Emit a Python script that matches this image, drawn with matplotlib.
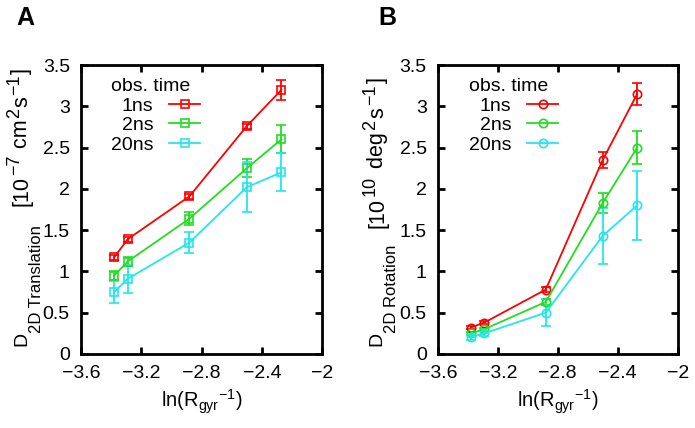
import matplotlib
matplotlib.use("Agg")
import matplotlib.pyplot as plt

plt.rcParams['font.family'] = ['Liberation Sans', 'DejaVu Sans']
plt.rcParams['mathtext.default'] = 'regular'

# ln(Rgyr^-1) positions
x = [-3.38, -3.29, -2.88, -2.50, -2.27]
labels = ['1ns', '2ns', '20ns']
colors = ['#ff0000', '#22dd22', '#22e6ee']

# panel A: translation
trans = [[1.17, 1.39, 1.91, 2.76, 3.20],
         [0.95, 1.12, 1.64, 2.25, 2.60],
         [0.75, 0.91, 1.35, 2.02, 2.20]]
trans_err = [[0.03, 0.03, 0.03, 0.03, 0.12],
             [0.05, 0.05, 0.08, 0.11, 0.17],
             [0.13, 0.17, 0.13, 0.30, 0.23]]

# panel B: rotation
rot = [[0.32, 0.38, 0.78, 2.35, 3.15],
       [0.25, 0.30, 0.63, 1.83, 2.50],
       [0.20, 0.25, 0.50, 1.43, 1.80]]
rot_err = [[0.02, 0.02, 0.03, 0.10, 0.13],
           [0.02, 0.02, 0.04, 0.12, 0.20],
           [0.03, 0.03, 0.16, 0.34, 0.42]]

# y label pieces: (text, fontsize, baseline shift in px; + is raised)
F, f = 15.5, 13
ylab_A = [('[10', F, 0), ('\u22127', f, 8), (' cm', F, 0), ('2', f, 8),
          ('s', F, 0), ('\u22121', f, 8), (']', F, 0)]
ylab_B = [('[10', F, 0), ('10', f, 8), (' deg', F, 0), ('2', f, 8),
          ('s', F, 0), ('\u22121', f, 8), (']', F, 0)]

W, H = 695, 428
fig = plt.figure(figsize=(W / 100, H / 100), dpi=100)
axA = fig.add_axes([0.1165, 0.173, 0.347, 0.675])
axB = fig.add_axes([0.630, 0.173, 0.345, 0.675])


def chain(ax, bx, y0, pieces, gap):
    # vertical text reading upwards, baseline at pixel column bx, starting at pixel row y0
    prev = None
    for s, size, shift in pieces:
        kw = dict(rotation=90, rotation_mode='anchor', ha='left', va='baseline',
                  fontsize=size)
        if prev is None:
            prev = fig.text((bx - shift) / W, 1 - y0 / H, s, **kw)
        else:
            prev = ax.annotate(s, xy=(bx - shift, 1), xycoords=('figure pixels', prev),
                               xytext=(0, gap), textcoords='offset pixels',
                               annotation_clip=False, **kw)


def panel(ax, data, err, marker, leg_x):
    lines = []
    for ys, es, c, lab in zip(data, err, colors, labels):
        cont = ax.errorbar(x, ys, yerr=es, color=c, marker=marker, ms=6, mfc='none',
                           mec=c, mew=1.2, lw=1.3, capsize=3.5, elinewidth=1.3,
                           capthick=1.3, label=lab)
        lines.append(cont[0])
    ax.set_xlim(-3.6, -2)
    ax.set_ylim(0, 3.5)
    ax.set_xticks([-3.6, -3.2, -2.8, -2.4, -2])
    ax.set_xticklabels(['\u22123.6', '\u22123.2', '\u22122.8', '\u22122.4', '\u22122'])
    ax.set_yticks([0, 0.5, 1, 1.5, 2, 2.5, 3, 3.5])
    ax.set_yticklabels(['0', '0.5', '1', '1.5', '2', '2.5', '3', '3.5'])
    ax.tick_params(direction='in', top=True, right=True, length=5, width=2,
                   labelsize=14, pad=8)
    for s in ax.spines.values():
        s.set_linewidth(2)
    ax.set_xlabel('ln(R$_{gyr}$$^{-1}$)', fontsize=14.5, labelpad=4)
    ax.legend(handles=lines, labels=labels, title='obs. time', loc='upper left',
              frameon=False, markerfirst=False, numpoints=1, fontsize=14,
              title_fontsize=14, handlelength=1.6, handletextpad=0.8,
              labelspacing=0.1, borderpad=0, borderaxespad=0,
              bbox_to_anchor=(leg_x, 0.955), alignment='left')


panel(axA, trans, trans_err, 's', 0.125)
panel(axB, rot, rot_err, 'o', 0.13)

# y labels: D with a lowered subscript, then the units
chain(axA, 26, 346, [('D', 14, 0), ('2D Translation', 12, -15)], -1)
chain(axA, 27, 206, ylab_A, 1)
chain(axB, 381, 346, [('D', 14, 0), ('2D Rotation', 12, -15)], -1)
chain(axB, 383, 228, ylab_B, 2)

fig.text(0.024, 0.985, 'A', fontsize=18, fontweight='bold', va='top')
fig.text(0.545, 0.985, 'B', fontsize=18, fontweight='bold', va='top')

fig.savefig('out.png', dpi=100)
